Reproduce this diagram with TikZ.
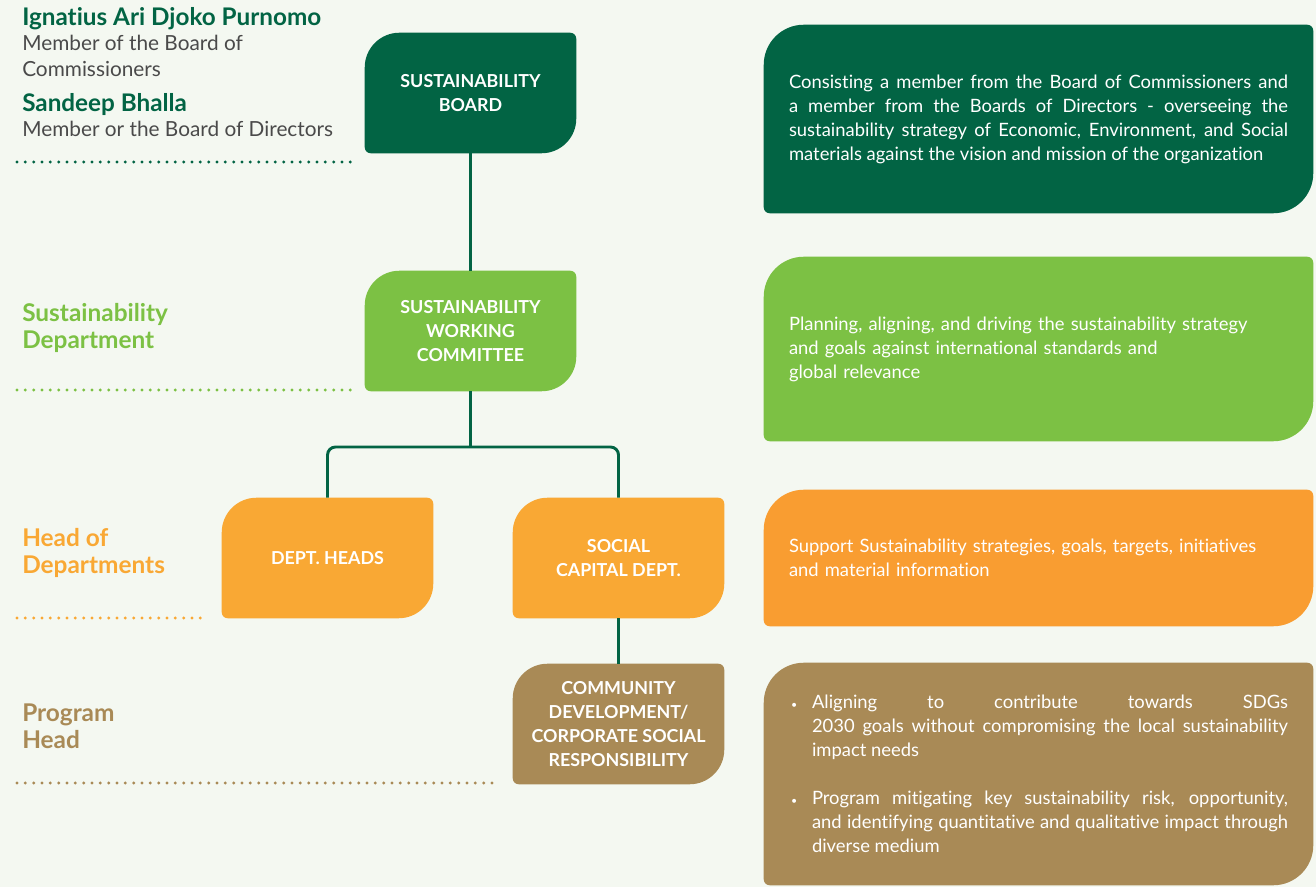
\documentclass[tikz,border=0pt]{standalone}
\usepackage{fontspec}
\setmainfont{Lato}[Ligatures=NoCommon]
\usetikzlibrary{positioning,backgrounds}
\definecolor{pagebg}{HTML}{F4F8F1}
\definecolor{brdgreen}{HTML}{026444}
\definecolor{wrkgreen}{HTML}{7CC144}
\definecolor{deptorange}{HTML}{F9A834}
\definecolor{descorange}{HTML}{F99D31}
\definecolor{progbrown}{HTML}{A98A56}
\definecolor{txtgray}{HTML}{4A4A4A}
% leaf shaped box behind a node: big radius top left and bottom right
\newcommand{\leaf}[4]{%
  \fill[#2] (#1.west) [rounded corners=#3] -- (#1.north west) -- (#1.north)
    [rounded corners=#4] -- (#1.north east) -- (#1.east)
    [rounded corners=#3] -- (#1.south east) -- (#1.south)
    [rounded corners=#4] -- (#1.south west) -- cycle;}
\newcommand{\bulletitem}{\makebox[17.25pt][l]{\hspace{1.5pt}\footnotesize\textbullet}%
  \hangindent=17.25pt\hangafter=1 }

\begin{document}
\begin{tikzpicture}[x=0.75pt, y=-0.75pt,
  orgbox/.style={minimum width=158.25pt, minimum height=90pt, inner sep=0pt,
                 align=center, text=white, font=\fontsize{13.4}{18}\selectfont\bfseries},
  descbox/.style={minimum width=411.75pt, inner xsep=18.75pt, inner ysep=0pt,
                  text width=374.25pt, text=white, font=\fontsize{13.8}{18}\selectfont},
  conn/.style={draw=brdgreen, line width=2.2pt},
  namelbl/.style={anchor=base west, inner sep=0pt, font=\fontsize{18.2}{18}\selectfont\bfseries, text=brdgreen},
  rolelbl/.style={anchor=base west, inner sep=0pt, font=\fontsize{15.6}{18}\selectfont, text=txtgray},
  sidelbl/.style={anchor=west, inner sep=0pt, align=left, font=\fontsize{18.3}{20}\selectfont\bfseries},
  dots/.style={line width=2.4pt, line cap=round, dash pattern=on 0pt off 6.25pt},
]
 \useasboundingbox (0,0) rectangle (1316,887);

 % Org chart boxes
 \node[orgbox] (sb) at (470.5,93) {SUSTAINABILITY\\BOARD};
 \node[orgbox] (swc) at (470.5,331) {SUSTAINABILITY\\WORKING\\COMMITTEE};
 \node[orgbox] (dh) at (327.5,558) {DEPT. HEADS};
 \node[orgbox] (scd) at (618.5,558) {SOCIAL\\CAPITAL DEPT.};
 \node[orgbox] (cd) at (618.5,724) {COMMUNITY\\DEVELOPMENT/\\CORPORATE SOCIAL\\RESPONSIBILITY};
 \coordinate (split) at (470.5,447);

 \draw[conn] (sb) -- (swc);
 \draw[conn] (swc) -- (split);
 \draw[conn, rounded corners=6pt] (dh.north) |- (split) -| (scd.north);
 \draw[conn] (scd) -- (cd);

 % Description boxes
 \node[descbox, minimum height=141pt, align=justify] (d1) at (1038.5,119)
   {Consisting a member from the Board of Commissioners and\linebreak
    a member from the Boards of Directors - overseeing the\linebreak
    sustainability strategy of Economic, Environment, and Social\linebreak
    materials against the vision and mission of the organization};
 \node[descbox, minimum height=138pt, align=left] (d2) at (1038.5,349)
   {Planning, aligning, and driving the sustainability strategy\\
    and goals against international standards and\\
    global relevance};
 \node[descbox, minimum height=102pt, align=left] (d3) at (1038.5,558)
   {Support Sustainability strategies, goals, targets, initiatives\\
    and material information};
 \node[descbox, minimum height=166.5pt, align=justify] (d4) at (1038.5,774)
   {\bulletitem Aligning to contribute towards SDGs\linebreak
    2030 goals without compromising the local sustainability\linebreak
    impact needs\par\vspace{18pt}
    \bulletitem Program mitigating key sustainability risk, opportunity,\linebreak
    and identifying quantitative and qualitative impact through\linebreak
    diverse medium\par};

 % Left side labels
 \node[namelbl] (nm1) at (22,26) {Ignatius Ari Djoko Purnomo};
 \node[rolelbl] (rl1) at (22,51) {Member of the Board of};
 \node[rolelbl] (rl2) at (22,77) {Commissioners};
 \node[namelbl] (nm2) at (22,112) {Sandeep Bhalla};
 \node[rolelbl] (rl3) at (22,137) {Member or the Board of Directors};
 \node[sidelbl, text=wrkgreen] (lswc) at (22,328) {Sustainability\\Department};
 \node[sidelbl, text=deptorange] (ldh) at (22,553) {Head of\\Departments};
 \node[sidelbl, text=progbrown] (lcd) at (22,726) {Program\\Head};

 \draw[dots, brdgreen] (17,162) -- (356,162);
 \draw[dots, wrkgreen] (17,390) -- (356,390);
 \draw[dots, deptorange] (17,618) -- (205,618);
 \draw[dots, progbrown] (17,783) -- (493,783);

 \begin{scope}[on background layer]
  \fill[pagebg] (0,0) rectangle (1316,887);
  \leaf{sb}{brdgreen}{26pt}{4.5pt}
  \leaf{swc}{wrkgreen}{26pt}{4.5pt}
  \leaf{dh}{deptorange}{26pt}{4.5pt}
  \leaf{scd}{deptorange}{26pt}{4.5pt}
  \leaf{cd}{progbrown}{26pt}{4.5pt}
  \leaf{d1}{brdgreen}{30pt}{4.5pt}
  \leaf{d2}{wrkgreen}{30pt}{4.5pt}
  \leaf{d3}{descorange}{30pt}{4.5pt}
  \leaf{d4}{progbrown}{30pt}{4.5pt}
 \end{scope}
\end{tikzpicture}
\end{document}
